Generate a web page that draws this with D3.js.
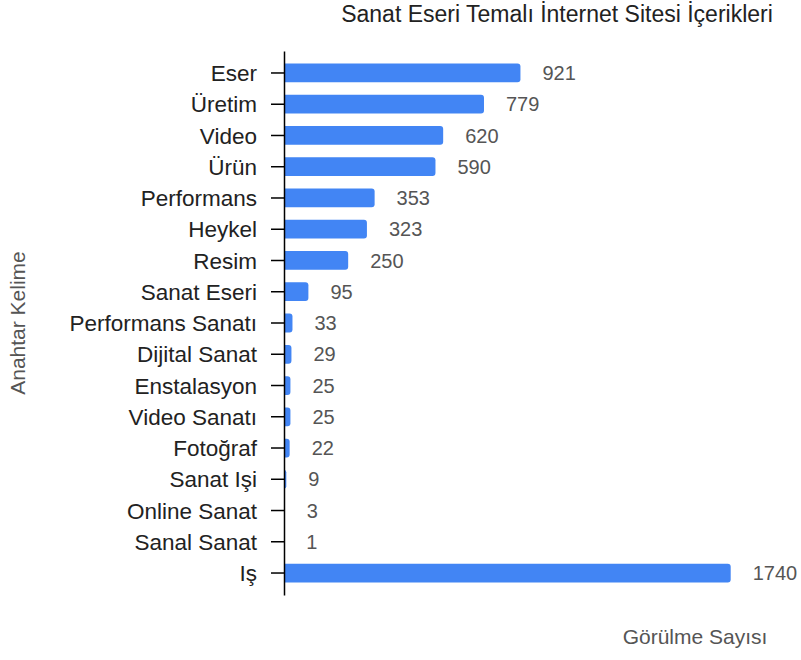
<!DOCTYPE html>
<html>
<head>
<meta charset="utf-8">
<script src="https://cdn.jsdelivr.net/npm/d3@7"></script>
<style>
  body { margin: 0; background: #fff; }
  text { font-family: "Liberation Sans", Arial, sans-serif; }
</style>
</head>
<body>
<div id="chart"></div>
<script>
// Veri
const categories = ["Eser", "Üretim", "Video", "Ürün", "Performans", "Heykel", "Resim", "Sanat Eseri",
  "Performans Sanatı", "Dijital Sanat", "Enstalasyon", "Video Sanatı", "Fotoğraf", "Sanat Işi",
  "Online Sanat", "Sanal Sanat", "Iş"];
const counts = [921, 779, 620, 590, 353, 323, 250, 95, 33, 29, 25, 25, 22, 9, 3, 1, 1740];

const width = 801;
const height = 660;

const svg = d3.select("#chart").append("svg")
    .attr("width", width)
    .attr("height", height);

const x = d3.scaleLinear()
    .domain([0, 1740])
    .range([284, 730.7]);

const y = d3.scaleBand()
    .domain(categories)
    .range([51.1, 594.9])
    .padding(0.4);

// çubuklar (sağ köşeler yuvarlatılmış)
function barPath(d, i) {
    const x0 = x(0), x1 = x(d), y0 = y(categories[i]), h = y.bandwidth();
    const r = Math.min(3, x1 - x0, h / 2);
    return `M${x0},${y0}H${x1 - r}Q${x1},${y0} ${x1},${y0 + r}V${y0 + h - r}Q${x1},${y0 + h} ${x1 - r},${y0 + h}H${x0}Z`;
}

svg.selectAll("path.bar")
    .data(counts)
    .enter()
    .append("path")
    .attr("class", "bar")
    .attr("d", barPath)
    .attr("fill", "#4285f4");

// değer etiketleri
svg.selectAll("text.val")
    .data(counts)
    .enter()
    .append("text")
    .attr("class", "val")
    .attr("x", d => x(d) + 22)
    .attr("y", (d, i) => y(categories[i]) + y.bandwidth() / 2)
    .attr("dy", "0.36em")
    .attr("font-size", 20)
    .attr("fill", "#555")
    .text(d => d);

// y ekseni
const yAxis = svg.append("g")
    .attr("transform", "translate(284,0)")
    .call(d3.axisLeft(y).tickSize(13).tickSizeOuter(0).tickPadding(14));
yAxis.select(".domain").attr("stroke", "#000").attr("stroke-width", 1.5);
yAxis.selectAll(".tick line").attr("stroke", "#000").attr("stroke-width", 1.5);
yAxis.selectAll(".tick text")
    .attr("font-size", 22.5)
    .attr("dy", "0.36em")
    .attr("fill", "#222")
    .style("font-family", "'Liberation Sans', Arial, sans-serif");

// başlıklar
svg.append("text")
    .attr("x", 557)
    .attr("y", 22)
    .attr("text-anchor", "middle")
    .attr("font-size", 23)
    .attr("fill", "#222")
    .text("Sanat Eseri Temalı İnternet Sitesi İçerikleri");

svg.append("text")
    .attr("x", 695)
    .attr("y", 644)
    .attr("text-anchor", "middle")
    .attr("font-size", 21)
    .attr("fill", "#555")
    .text("Görülme Sayısı");

svg.append("text")
    .attr("transform", "translate(25,323) rotate(-90)")
    .attr("text-anchor", "middle")
    .attr("font-size", 21)
    .attr("fill", "#555")
    .text("Anahtar Kelime");
</script>
</body>
</html>
